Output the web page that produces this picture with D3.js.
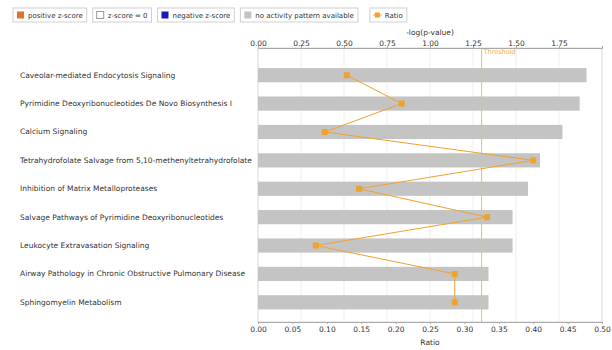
<!DOCTYPE html>
<html>
<head>
<meta charset="utf-8">
<script src="https://cdn.jsdelivr.net/npm/d3@7"></script>
<style>
  body { margin: 0; background: #fff; }
  text { font-family: "DejaVu Sans", Verdana, sans-serif; fill: #333; }
</style>
</head>
<body>
<svg id="chart" width="612" height="350"></svg>
<script>
// pathways, top to bottom
var pathways = [
  "Caveolar-mediated Endocytosis Signaling",
  "Pyrimidine Deoxyribonucleotides De Novo Biosynthesis I",
  "Calcium Signaling",
  "Tetrahydrofolate Salvage from 5,10-methenyltetrahydrofolate",
  "Inhibition of Matrix Metalloproteases",
  "Salvage Pathways of Pyrimidine Deoxyribonucleotides",
  "Leukocyte Extravasation Signaling",
  "Airway Pathology in Chronic Obstructive Pulmonary Disease",
  "Sphingomyelin Metabolism"
];
var logP = [1.91, 1.87, 1.77, 1.64, 1.57, 1.48, 1.48, 1.34, 1.34];
var ratio = [0.129, 0.209, 0.097, 0.40, 0.147, 0.333, 0.084, 0.286, 0.286];
var threshold = 1.3;
var topTicks = [0, 0.25, 0.5, 0.75, 1.0, 1.25, 1.5, 1.75];
var bottomTicks = [0, 0.05, 0.1, 0.15, 0.2, 0.25, 0.3, 0.35, 0.4, 0.45, 0.5];
var legendItems = [
  { name: "positive z-score", kind: "square", color: "#e0732a" },
  { name: "z-score = 0", kind: "square", color: "#ffffff" },
  { name: "negative z-score", kind: "square", color: "#1a1ab8" },
  { name: "no activity pattern available", kind: "square", color: "#c4c4c4" },
  { name: "Ratio", kind: "line", color: "#f0a22e" }
];

var svg = d3.select("#chart");
var plotL = 258, plotR = 602, plotT = 48, plotB = 322;

var xP = d3.scaleLinear().domain([0, 2.0]).range([plotL, plotR]);
var xR = d3.scaleLinear().domain([0, 0.5]).range([plotL, plotR]);
var y = d3.scaleBand().domain(pathways).range([61, 316.5]).paddingInner(0.5).paddingOuter(0.25);

// grid lines
svg.append("g").selectAll("line").data(topTicks.slice(1)).enter().append("line")
  .attr("x1", function (d) { return xP(d); }).attr("x2", function (d) { return xP(d); })
  .attr("y1", plotT).attr("y2", plotB)
  .attr("stroke", "#efefef").attr("stroke-width", 1);

// frame
svg.append("rect").attr("x", plotL).attr("y", plotT)
  .attr("width", plotR - plotL).attr("height", plotB - plotT)
  .attr("fill", "none").attr("stroke", "#d8d8d8");

// bars
svg.append("g").selectAll("rect").data(pathways).enter().append("rect")
  .attr("x", plotL)
  .attr("y", function (d) { return y(d); })
  .attr("width", function (d, i) { return xP(logP[i]) - plotL; })
  .attr("height", y.bandwidth())
  .attr("fill", "#c4c4c4");

// row labels
svg.append("g").selectAll("text").data(pathways).enter().append("text")
  .attr("x", 20)
  .attr("y", function (d) { return y(d) + y.bandwidth() / 2 + 2.5; })
  .attr("font-size", "7.5px")
  .text(function (d) { return d; });

// threshold
svg.append("line")
  .attr("x1", xP(threshold)).attr("x2", xP(threshold))
  .attr("y1", plotT).attr("y2", plotB)
  .attr("stroke", "#e8c070").attr("stroke-width", 1);
svg.append("text").attr("x", xP(threshold) + 2).attr("y", plotT + 6)
  .attr("font-size", "6.5px").style("fill", "#f0b040").text("Threshold");

// axes
var topAxis = d3.axisTop(xP).tickValues(topTicks).tickFormat(d3.format(".2f")).tickSize(2).tickPadding(0);
var gTop = svg.append("g").attr("transform", "translate(0," + plotT + ")").call(topAxis);
var botAxis = d3.axisBottom(xR).tickValues(bottomTicks).tickFormat(d3.format(".2f")).tickSize(2);
var gBot = svg.append("g").attr("transform", "translate(0," + plotB + ")").call(botAxis);
[gTop, gBot].forEach(function (g) {
  g.select(".domain").attr("stroke", "#aaa");
  g.selectAll(".tick line").attr("stroke", "#aaa");
  g.selectAll(".tick text").attr("font-size", "7.5px").style("font-family", "DejaVu Sans, sans-serif").style("fill", "#333");
});
svg.append("text").attr("x", (plotL + plotR) / 2).attr("y", 35)
  .attr("text-anchor", "middle").attr("font-size", "7.5px").text("-log(p-value)");
svg.append("text").attr("x", (plotL + plotR) / 2).attr("y", 345)
  .attr("text-anchor", "middle").attr("font-size", "7.5px").text("Ratio");

// ratio line + points
var line = d3.line()
  .x(function (d, i) { return xR(ratio[i]); })
  .y(function (d) { return y(d) + y.bandwidth() / 2; });
svg.append("path").datum(pathways).attr("d", line)
  .attr("fill", "none").attr("stroke", "#f0a22e").attr("stroke-width", 1);
svg.append("g").selectAll("rect").data(pathways).enter().append("rect")
  .attr("x", function (d, i) { return xR(ratio[i]) - 3; })
  .attr("y", function (d) { return y(d) + y.bandwidth() / 2 - 3; })
  .attr("width", 6).attr("height", 6)
  .attr("fill", "#f0a22e");

// legend
var lx = 13;
legendItems.forEach(function (item) {
  var g = svg.append("g").attr("transform", "translate(" + lx + ",8)");
  var t = g.append("text").attr("x", 15).attr("y", 10).attr("font-size", "7px").text(item.name);
  var w = t.node().getComputedTextLength() + 19;
  g.insert("rect", "text").attr("x", 0).attr("y", 0).attr("width", w).attr("height", 14)
    .attr("fill", "#fff").attr("stroke", "#d0d0d0");
  if (item.kind === "square") {
    g.append("rect").attr("x", 4).attr("y", 3.5).attr("width", 7).attr("height", 7)
      .attr("fill", item.color).attr("stroke", item.color === "#ffffff" ? "#999" : "none");
  } else {
    g.append("line").attr("x1", 3).attr("x2", 12).attr("y1", 7).attr("y2", 7)
      .attr("stroke", item.color).attr("stroke-width", 1);
    g.append("rect").attr("x", 5).attr("y", 4.5).attr("width", 5).attr("height", 5).attr("fill", item.color);
  }
  lx += w + (item.name === "no activity pattern available" ? 12 : 6);
});
</script>
</body>
</html>
